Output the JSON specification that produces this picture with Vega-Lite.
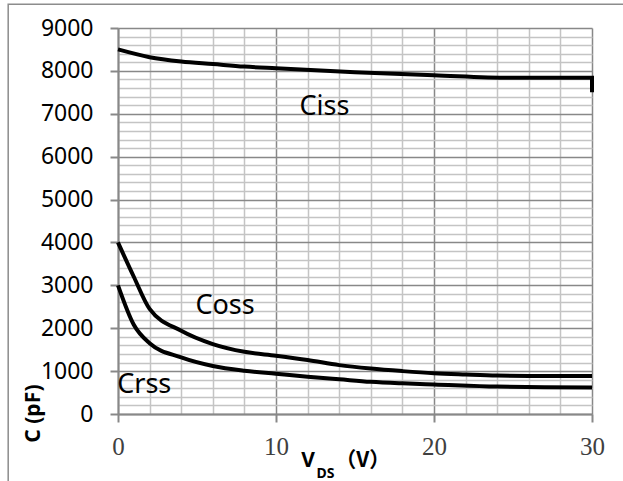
{
  "$schema": "https://vega.github.io/schema/vega-lite/v6.json",
  "autosize": {"type": "none"},
  "padding": {"left": 118, "top": 28, "right": 31, "bottom": 67},
  "width": 474,
  "height": 386,
  "background": "white",
  "config": {"view": {"stroke": null}},
  "datasets": {
    "curves": [
      {"series": "Ciss", "v": 0, "c": 8500},
      {"series": "Ciss", "v": 2, "c": 8320},
      {"series": "Ciss", "v": 4, "c": 8220},
      {"series": "Ciss", "v": 6, "c": 8160},
      {"series": "Ciss", "v": 8, "c": 8100},
      {"series": "Ciss", "v": 10, "c": 8060},
      {"series": "Ciss", "v": 15, "c": 7970},
      {"series": "Ciss", "v": 20, "c": 7900},
      {"series": "Ciss", "v": 25, "c": 7840},
      {"series": "Ciss", "v": 30, "c": 7840},
      {"series": "Ciss", "v": 30, "c": 7500},
      {"series": "Coss", "v": 0, "c": 4000},
      {"series": "Coss", "v": 1, "c": 3200},
      {"series": "Coss", "v": 2, "c": 2450},
      {"series": "Coss", "v": 4, "c": 1940},
      {"series": "Coss", "v": 6, "c": 1630},
      {"series": "Coss", "v": 8, "c": 1450},
      {"series": "Coss", "v": 10, "c": 1360},
      {"series": "Coss", "v": 12, "c": 1260},
      {"series": "Coss", "v": 14, "c": 1140},
      {"series": "Coss", "v": 16, "c": 1060},
      {"series": "Coss", "v": 18, "c": 1000},
      {"series": "Coss", "v": 20, "c": 950},
      {"series": "Coss", "v": 22, "c": 920},
      {"series": "Coss", "v": 24, "c": 895},
      {"series": "Coss", "v": 26, "c": 887},
      {"series": "Coss", "v": 28, "c": 887},
      {"series": "Coss", "v": 30, "c": 887},
      {"series": "Crss", "v": 0, "c": 3000},
      {"series": "Crss", "v": 1, "c": 2080},
      {"series": "Crss", "v": 2, "c": 1650},
      {"series": "Crss", "v": 4, "c": 1320},
      {"series": "Crss", "v": 6, "c": 1120},
      {"series": "Crss", "v": 8, "c": 1010},
      {"series": "Crss", "v": 10, "c": 940},
      {"series": "Crss", "v": 12, "c": 870},
      {"series": "Crss", "v": 14, "c": 810},
      {"series": "Crss", "v": 16, "c": 750},
      {"series": "Crss", "v": 18, "c": 715},
      {"series": "Crss", "v": 20, "c": 690},
      {"series": "Crss", "v": 24, "c": 640},
      {"series": "Crss", "v": 27, "c": 625},
      {"series": "Crss", "v": 30, "c": 620}
    ],
    "one": [{}]
  },
  "layer": [
    {
      "data": {"name": "curves"},
      "mark": {"type": "line", "color": "black", "strokeWidth": 4, "interpolate": "monotone", "strokeCap": "butt"},
      "encoding": {
        "x": {
          "field": "v", "type": "quantitative",
          "scale": {"domain": [0, 30], "nice": false, "zero": false},
          "axis": {
            "values": [0, 2, 4, 6, 8, 10, 12, 14, 16, 18, 20, 22, 24, 26, 28, 30],
            "tickCount": 100,
            "format": "d",
            "title": null,
            "grid": true,
            "gridColor": {"condition": {"test": "datum.value % 10 === 0", "value": "#888888"}, "value": "#c4c4c4"},
            "gridWidth": 1.5,
            "domainColor": "#888888",
            "domainWidth": 2,
            "tickSize": 8,
            "tickWidth": 2,
            "tickColor": "#888888",
            "tickOpacity": {"condition": {"test": "datum.value % 10 === 0", "value": 1}, "value": 0},
            "labelExpr": "datum.value % 10 === 0 ? datum.label : ''",
            "labelFont": "Liberation Serif",
            "labelFontSize": 25,
            "labelColor": "#404040",
            "labelPadding": 12,
            "labelFlush": false,
            "labelOverlap": false
          }
        },
        "y": {
          "field": "c", "type": "quantitative",
          "scale": {"domain": [0, 9000], "nice": false},
          "axis": {
            "values": [0,200,400,600,800,1000,1200,1400,1600,1800,2000,2200,2400,2600,2800,3000,3200,3400,3600,3800,4000,4200,4400,4600,4800,5000,5200,5400,5600,5800,6000,6200,6400,6600,6800,7000,7200,7400,7600,7800,8000,8200,8400,8600,8800,9000],
            "tickCount": 100,
            "title": "C (pF)",
            "titleFont": "Noto Sans",
            "titleFontWeight": "bold",
            "titleFontSize": 21,
            "titleColor": "black",
            "titleX": -85,
            "titleY": 385,
            "titleAlign": "center",
            "titleBaseline": "middle",
            "titleAngle": -90,
            "grid": true,
            "gridColor": {"condition": {"test": "datum.value % 1000 === 0", "value": "#888888"}, "value": "#c4c4c4"},
            "gridWidth": 1.5,
            "domainColor": "#888888",
            "domainWidth": 2,
            "tickSize": 8,
            "tickWidth": 2,
            "tickColor": "#888888",
            "tickOpacity": {"condition": {"test": "datum.value % 1000 === 0", "value": 1}, "value": 0},
            "labelExpr": "datum.value % 1000 === 0 ? datum.label : ''",
            "format": "d",
            "labelFont": "Noto Sans",
            "labelFontSize": 23,
            "labelColor": "black",
            "labelPadding": 17,
            "labelFlush": false,
            "labelOverlap": false
          }
        },
        "detail": {"field": "series", "type": "nominal"},
        "order": {"value": null}
      }
    },
    {
      "data": {"name": "one"},
      "mark": {"type": "rect", "fillOpacity": 0, "stroke": "#8c8c8c", "strokeWidth": 1.5},
      "encoding": {
        "x": {"datum": -6.95, "type": "quantitative"},
        "x2": {"datum": 34},
        "y": {"datum": 9555, "type": "quantitative"},
        "y2": {"datum": -2200}
      }
    },
    {
      "data": {"name": "one"},
      "mark": {"type": "text", "text": "Ciss", "font": "Noto Sans", "fontSize": 27, "align": "left", "baseline": "alphabetic", "color": "black"},
      "encoding": {"x": {"datum": 11.49, "type": "quantitative"}, "y": {"datum": 6970, "type": "quantitative"}}
    },
    {
      "data": {"name": "one"},
      "mark": {"type": "text", "text": "Coss", "font": "Noto Sans", "fontSize": 27, "align": "left", "baseline": "alphabetic", "color": "black"},
      "encoding": {"x": {"datum": 4.9, "type": "quantitative"}, "y": {"datum": 2330, "type": "quantitative"}}
    },
    {
      "data": {"name": "one"},
      "mark": {"type": "text", "text": "Crss", "font": "Noto Sans", "fontSize": 27, "align": "left", "baseline": "alphabetic", "color": "black"},
      "encoding": {"x": {"datum": -0.05, "type": "quantitative"}, "y": {"datum": 500, "type": "quantitative"}}
    },
    {
      "data": {"name": "one"},
      "mark": {"type": "text", "text": "V", "font": "Noto Sans", "fontWeight": "bold", "fontSize": 21, "align": "left", "baseline": "alphabetic", "color": "black"},
      "encoding": {"x": {"datum": 11.6, "type": "quantitative"}, "y": {"datum": -1230, "type": "quantitative"}}
    },
    {
      "data": {"name": "one"},
      "mark": {"type": "text", "text": "DS", "font": "Noto Sans", "fontWeight": "bold", "fontSize": 14, "align": "left", "baseline": "alphabetic", "color": "black"},
      "encoding": {"x": {"datum": 12.57, "type": "quantitative"}, "y": {"datum": -1490, "type": "quantitative"}}
    },
    {
      "data": {"name": "one"},
      "mark": {"type": "text", "text": "（V）", "font": "Noto Sans CJK SC", "fontWeight": "bold", "fontSize": 21, "align": "left", "baseline": "alphabetic", "color": "black"},
      "encoding": {"x": {"datum": 13.75, "type": "quantitative"}, "y": {"datum": -1230, "type": "quantitative"}}
    }
  ]
}
